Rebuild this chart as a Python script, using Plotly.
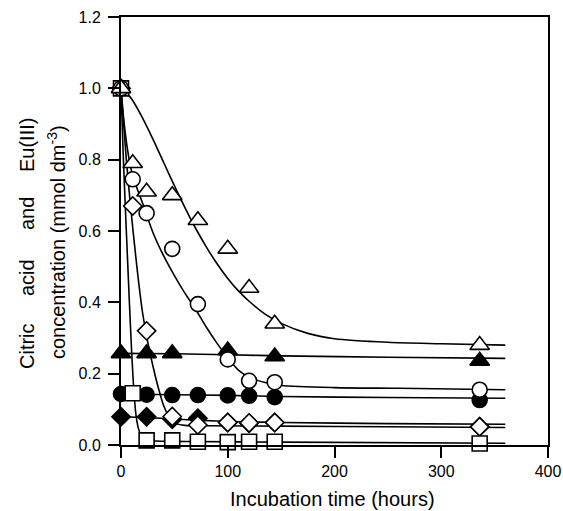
import plotly.graph_objects as go

# ---------------- data: measured points ----------------
t_open = [0, 11, 24, 48, 72, 100, 120, 144, 336]
open_triangle = [1.0, 0.79, 0.71, 0.70, 0.63, 0.55, 0.44, 0.34, 0.28]
open_circle = [1.0, 0.745, 0.65, 0.55, 0.395, 0.24, 0.18, 0.176, 0.155]
open_diamond = [1.0, 0.67, 0.32, 0.08, 0.056, 0.063, 0.062, 0.063, 0.051]
open_square = [1.0, 0.145, 0.013, 0.013, 0.009, 0.008, 0.009, 0.009, 0.004]

t_filled_tri = [0, 24, 48, 100, 144, 336]
filled_triangle = [0.257, 0.257, 0.257, 0.265, 0.248, 0.236]
t_filled_circ = [0, 24, 48, 72, 100, 120, 144, 336]
filled_circle = [0.143, 0.141, 0.140, 0.140, 0.139, 0.138, 0.134, 0.126]
t_filled_dia = [0, 24, 48, 72, 100, 120, 144, 336]
filled_diamond = [0.079, 0.079, 0.072, 0.075, 0.063, 0.061, 0.063, 0.051]

# ---------------- data: fitted curves ----------------
fit_tri_t = [0, 5, 10, 20, 30, 40, 50, 60, 70, 80, 90, 100, 110, 120, 135, 150, 175, 200, 250, 300, 360]
fit_tri_y = [1.0, 0.988, 0.97, 0.918, 0.857, 0.792, 0.727, 0.665, 0.607, 0.555, 0.508, 0.467, 0.432,
             0.403, 0.367, 0.341, 0.313, 0.298, 0.288, 0.284, 0.280]
fit_circ_t = [0, 2, 4, 6, 8, 11, 15, 20, 30, 40, 50, 60, 70, 80, 90, 100, 110, 120, 135, 150, 200, 260, 360]
fit_circ_y = [1.0, 0.93, 0.875, 0.83, 0.795, 0.755, 0.72, 0.68, 0.595, 0.53, 0.475, 0.425, 0.38, 0.33,
              0.285, 0.245, 0.21, 0.19, 0.175, 0.167, 0.161, 0.159, 0.155]
fit_dia_t = [0, 2, 5, 8, 12, 16, 20, 25, 30, 35, 40, 45, 52, 60, 80, 150, 250, 360]
fit_dia_y = [1.0, 0.92, 0.80, 0.70, 0.58, 0.47, 0.375, 0.29, 0.22, 0.16, 0.11, 0.08, 0.06, 0.055,
             0.054, 0.053, 0.051, 0.049]
fit_sq_t = [0, 2, 4, 6, 8, 10, 12, 14, 16, 18, 22, 30, 60, 150, 360]
fit_sq_y = [1.0, 0.82, 0.67, 0.53, 0.39, 0.26, 0.155, 0.085, 0.05, 0.032, 0.018, 0.012, 0.010, 0.008, 0.005]

fit_flat_t = [0, 50, 100, 150, 250, 360]
fit_ftri_y = [0.257, 0.256, 0.253, 0.250, 0.246, 0.243]
fit_fcirc_y = [0.143, 0.141, 0.139, 0.136, 0.133, 0.131]
fit_fdia_t = [0, 25, 50, 75, 100, 150, 250, 360]
fit_fdia_y = [0.079, 0.077, 0.073, 0.069, 0.066, 0.063, 0.060, 0.058]

x_ticks = [0, 100, 200, 300, 400]
y_ticks = [0.0, 0.2, 0.4, 0.6, 0.8, 1.0, 1.2]

FONT = "Liberation Sans, Arial, Helvetica, sans-serif"

fig = go.Figure()

# fitted curves first (below markers)
for tx, ty in [(fit_tri_t, fit_tri_y), (fit_circ_t, fit_circ_y), (fit_dia_t, fit_dia_y),
               (fit_sq_t, fit_sq_y), (fit_flat_t, fit_ftri_y), (fit_flat_t, fit_fcirc_y),
               (fit_fdia_t, fit_fdia_y)]:
    fig.add_trace(go.Scatter(x=tx, y=ty, mode="lines",
                             line=dict(color="black", width=1.6, shape="spline", smoothing=0.8),
                             showlegend=False, hoverinfo="skip"))

def markers(x, y, symbol, size, filled):
    fig.add_trace(go.Scatter(
        x=x, y=y, mode="markers", cliponaxis=False, showlegend=False,
        marker=dict(symbol=symbol, size=size,
                    color="black" if filled else "white",
                    line=dict(color="black", width=1.6))))

markers(t_filled_tri, filled_triangle, "triangle-up", 17, True)
markers(t_filled_circ, filled_circle, "circle", 15, True)
markers(t_filled_dia, filled_diamond, "diamond", 14, True)
markers(t_open, open_diamond, "diamond", 14, False)
markers(t_open, open_square, "square", 15, False)
markers(t_open, open_circle, "circle", 15, False)
markers(t_open, open_triangle, "triangle-up", 17, False)

axis_common = dict(showline=True, linecolor="black", linewidth=2, mirror=True,
                   ticks="outside", ticklen=11, tickwidth=2, tickcolor="black",
                   showgrid=False, zeroline=False, automargin=False,
                   tickfont=dict(family=FONT, size=16, color="black"))

fig.update_xaxes(range=[0, 400], tickvals=x_ticks, ticktext=[str(v) for v in x_ticks],
                 **axis_common)
fig.update_yaxes(range=[0, 1.2], tickvals=y_ticks, ticktext=[f"{v:.1f}" for v in y_ticks],
                 ticklabelstandoff=4, **axis_common)

L, R, T, B = 121, 15, 17, 66
PW, PH = 563 - L - R, 511 - T - B

def px_x(px):
    return (px - L) / PW

def px_y(py):
    return (511 - B - py) / PH

annotations = [
    dict(text="Incubation time (hours)", x=px_x(332), y=px_y(499), xref="paper", yref="paper",
         showarrow=False, xanchor="center", yanchor="middle",
         font=dict(family=FONT, size=20, color="black")),
    dict(text="concentration (mmol dm<sup>-3</sup>)", x=px_x(56), y=px_y(242), xref="paper",
         yref="paper", showarrow=False, textangle=-90, xanchor="center", yanchor="middle",
         font=dict(family=FONT, size=20, color="black")),
]
for word, cy in [("Citric", 346), ("acid", 278), ("and", 214), ("Eu(III)", 145)]:
    annotations.append(dict(text=word, x=px_x(27), y=px_y(cy), xref="paper", yref="paper",
                            showarrow=False, textangle=-90, xanchor="center", yanchor="middle",
                            font=dict(family=FONT, size=20, color="black")))

fig.update_layout(width=563, height=511, margin=dict(l=L, r=R, t=T, b=B),
                  paper_bgcolor="white", plot_bgcolor="white",
                  annotations=annotations)

fig.write_html("out.html", config={"displayModeBar": False},
               post_script="document.body.style.margin='0px';document.body.style.padding='0px';")
